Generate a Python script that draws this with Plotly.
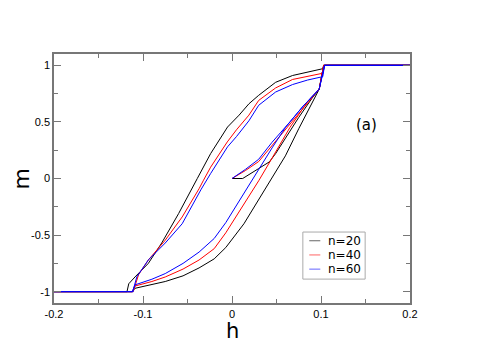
import plotly.graph_objs as go

# field h and magnetisation m, per system size n
sizes = [20, 40, 60]
colors = ['black', 'red', 'blue']

# n=20
init_h_20 = [0, 0.012, 0.03, 0.042, 0.049, 0.06, 0.075, 0.09, 0.098, 0.103, 0.2]
init_m_20 = [0, 0.0, 0.088, 0.147, 0.22, 0.36, 0.54, 0.71, 0.79, 1.0, 1.0]
desc_h_20 = [0.104, 0.102, 0.085, 0.068, 0.049, 0.03, 0.019, 0.008, -0.005, -0.024, -0.039,
             -0.06, -0.079, -0.094, -0.109, -0.116, -0.118, -0.2]
desc_m_20 = [1.0, 0.97, 0.94, 0.91, 0.85, 0.735, 0.66, 0.56, 0.455, 0.22, 0.0,
             -0.31, -0.57, -0.75, -0.87, -0.93, -1.0, -1.0]
asc_h_20 = [-0.112, -0.109, -0.09, -0.075, -0.055, -0.037, -0.02, -0.007, 0.0134, 0.03,
            0.0435, 0.06, 0.075, 0.09, 0.098, 0.103, 0.2]
asc_m_20 = [-1.0, -0.97, -0.94, -0.91, -0.86, -0.79, -0.71, -0.61, -0.40, -0.19,
            -0.02, 0.2, 0.44, 0.66, 0.79, 1.0, 1.0]

# n=40
init_h_40 = [0, 0.015, 0.03, 0.045, 0.064, 0.08, 0.098, 0.103, 0.2]
init_m_40 = [0, 0.07, 0.15, 0.29, 0.47, 0.62, 0.79, 1.0, 1.0]
desc_h_40 = [0.104, 0.102, 0.085, 0.068, 0.049, 0.03, 0.019, 0.005, -0.0053, -0.024, -0.032,
             -0.037, -0.056, -0.075, -0.094, -0.105, -0.109, -0.111, -0.2]
desc_m_40 = [1.0, 0.93, 0.905, 0.875, 0.80, 0.69, 0.56, 0.43, 0.323, 0.10, -0.015,
             -0.09, -0.34, -0.545, -0.72, -0.85, -0.95, -1.0, -1.0]
asc_h_40 = [-0.112, -0.109, -0.09, -0.075, -0.055, -0.037, -0.02, -0.007, 0.0134, 0.03,
            0.045, 0.065, 0.085, 0.098, 0.103, 0.2]
asc_m_40 = [-1.0, -0.95, -0.91, -0.87, -0.80, -0.72, -0.62, -0.48, -0.23, -0.02,
            0.18, 0.45, 0.68, 0.79, 1.0, 1.0]

# n=60
init_h_60 = [0, 0.015, 0.03, 0.045, 0.064, 0.08, 0.098, 0.104, 0.2]
init_m_60 = [0, 0.08, 0.17, 0.32, 0.49, 0.64, 0.79, 1.0, 1.0]
desc_h_60 = [0.104, 0.102, 0.085, 0.068, 0.049, 0.03, 0.019, 0.005, -0.005, -0.024, -0.035,
             -0.056, -0.075, -0.094, -0.107, -0.111, -0.111, -0.2]
desc_m_60 = [1.0, 0.90, 0.87, 0.83, 0.764, 0.647, 0.51, 0.37, 0.28, 0.044, -0.10,
             -0.40, -0.57, -0.72, -0.87, -0.985, -1.0, -1.0]
asc_h_60 = [-0.112, -0.109, -0.09, -0.075, -0.055, -0.037, -0.02, -0.007, 0.0134, 0.03,
            0.045, 0.06, 0.08, 0.098, 0.104, 0.2]
asc_m_60 = [-1.0, -0.94, -0.89, -0.84, -0.75, -0.65, -0.53, -0.39, -0.13, 0.08,
            0.27, 0.45, 0.64, 0.79, 1.0, 1.0]

branches = {
    20: (init_h_20, init_m_20, desc_h_20, desc_m_20, asc_h_20, asc_m_20),
    40: (init_h_40, init_m_40, desc_h_40, desc_m_40, asc_h_40, asc_m_40),
    60: (init_h_60, init_m_60, desc_h_60, desc_m_60, asc_h_60, asc_m_60),
}

x_ticks = [-0.2, -0.1, 0, 0.1, 0.2]
y_ticks = [-1, -0.5, 0, 0.5, 1]

plots = []
for n, col in zip(sizes, colors):
    ih, im, dh, dm, ah, am = branches[n]
    # one trajectory: virgin curve -> saturation -> down sweep -> up sweep
    h = ih + dh + ah
    m = im + dm + am
    plots.append(go.Scatter(x=h, y=m, mode='lines', name='n=%d' % n,
                            line=dict(color=col, width=1), showlegend=False))

# hand-made legend box (compact rows like the original)
shapes = [dict(type='rect', xref='paper', yref='paper', x0=0.699, x1=0.874, y0=0.096, y1=0.285,
               line=dict(color='#aaaaaa', width=1), fillcolor='white', layer='above')]
annotations = []
for i, (n, col) in enumerate(zip(sizes, colors)):
    yrow = 0.250 - i * 0.057
    shapes.append(dict(type='line', xref='paper', yref='paper', x0=0.717, x1=0.748,
                       y0=yrow, y1=yrow, line=dict(color=col, width=1), opacity=0.6, layer='above'))
    annotations.append(dict(x=0.764, y=yrow, xref='paper', yref='paper', text='n=%d' % n,
                            xanchor='left', yanchor='middle', showarrow=False,
                            font=dict(family='DejaVu Sans', size=12, color='black')))

annotations += [
    dict(x=0.1506, y=0.47, xref='x', yref='y', text='(a)', showarrow=False,
         font=dict(family='DejaVu Sans', size=15, color='black')),
    dict(x=-0.09, y=0.5, xref='paper', yref='paper', text='m', textangle=-90, showarrow=False,
         xanchor='center', yanchor='middle',
         font=dict(family='DejaVu Sans', size=22, color='black')),
    dict(x=0.0, y=-0.113, xref='x', yref='paper', text='h', showarrow=False,
         xanchor='center', yanchor='middle',
         font=dict(family='DejaVu Sans', size=21, color='black')),
]

axis_style = dict(showgrid=False, zeroline=False, showline=True, linecolor='#777777',
                  linewidth=1.5, mirror='ticks', ticks='inside', ticklen=7, tickwidth=1,
                  tickcolor='#777777', tickfont=dict(size=11, color='black'))

fig = go.Figure(data=plots)
# page body adds an 8px margin, so the figure is 8px smaller than the window
fig.update_layout(
    width=483, height=339,
    margin=dict(l=46, r=81, t=46, b=44),
    paper_bgcolor='white', plot_bgcolor='white',
    font=dict(family='Arial, Liberation Sans, sans-serif', color='black'),
    xaxis=dict(range=[-0.2, 0.2], tickvals=x_ticks, ticktext=['-0.2', '-0.1', '0', '0.1', '0.2'],
               minor=dict(dtick=0.05, ticks='inside', ticklen=4, tickcolor='#777777'),
               **axis_style),
    yaxis=dict(range=[-1.1, 1.1], tickvals=y_ticks, ticktext=['-1', '-0.5', '0', '0.5', '1'],
               minor=dict(dtick=0.25, ticks='inside', ticklen=4, tickcolor='#777777'),
               **axis_style),
    showlegend=False,
    shapes=shapes,
    annotations=annotations,
)

fig.write_html("out.html")
